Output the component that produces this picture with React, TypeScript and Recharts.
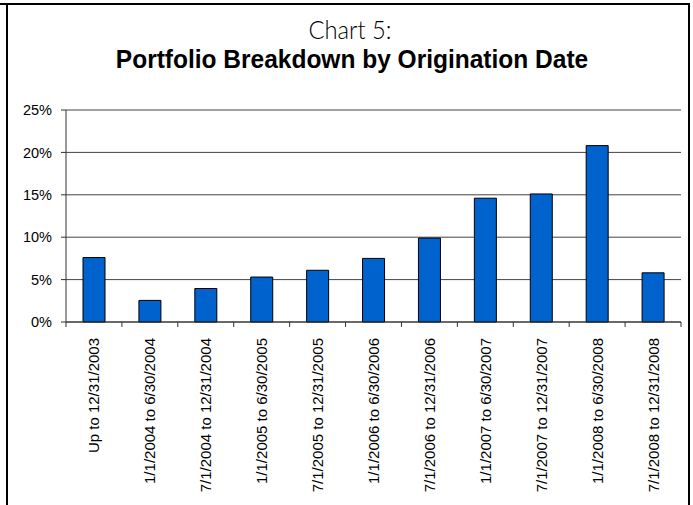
import React from "react";
import { BarChart, Bar, XAxis, YAxis, CartesianGrid } from "recharts";

const categories = [
  "Up to 12/31/2003",
  "1/1/2004 to 6/30/2004",
  "7/1/2004 to 12/31/2004",
  "1/1/2005 to 6/30/2005",
  "7/1/2005 to 12/31/2005",
  "1/1/2006 to 6/30/2006",
  "7/1/2006 to 12/31/2006",
  "1/1/2007 to 6/30/2007",
  "7/1/2007 to 12/31/2007",
  "1/1/2008 to 6/30/2008",
  "7/1/2008 to 12/31/2008",
];

// percent of portfolio
const shares = [7.6, 2.55, 3.95, 5.3, 6.1, 7.5, 9.9, 14.6, 15.1, 20.8, 5.8];

const yTicks = [0, 5, 10, 15, 20, 25];

const data = categories.map((name, i) => ({ name, share: shares[i] }));

const labelFont = "'Liberation Sans', Arial, sans-serif";

function CategoryTick(props: any) {
  const { x, y, payload, index } = props;
  const half = payload && payload.offset ? payload.offset : 0;
  const last = index === categories.length - 1;
  return (
    <g>
      <line x1={x - half} x2={x - half} y1={y} y2={y + 5} stroke="#333" />
      {last && <line x1={x + half} x2={x + half} y1={y} y2={y + 5} stroke="#333" />}
      <text
        x={x}
        y={y + 16}
        transform={`rotate(-90, ${x}, ${y + 16})`}
        textAnchor="end"
        dominantBaseline="central"
        fontFamily={labelFont}
        fontSize={15}
        fill="#000"
      >
        {payload.value}
      </text>
    </g>
  );
}

export default function App() {
  return (
    <div style={{ position: "absolute", left: 0, top: 0, width: 693, height: 505, background: "#fff" }}>
      {/* frame */}
      <div style={{ position: "absolute", left: 0, top: 3, width: 690, height: 2, background: "#000" }} />
      <div style={{ position: "absolute", left: 6, top: 3, width: 2, height: 502, background: "#000" }} />
      <div style={{ position: "absolute", left: 688, top: 3, width: 2, height: 502, background: "#000" }} />

      <div
        style={{
          position: "absolute",
          left: 0,
          width: 700,
          top: 14,
          textAlign: "center",
          fontFamily: "Lato, 'Open Sans', sans-serif",
          fontWeight: 300,
          fontSize: 25,
          lineHeight: "30px",
          color: "#000",
          transform: "scaleX(0.95)",
        }}
      >
        Chart 5:
      </div>
      <div
        style={{
          position: "absolute",
          left: 0,
          width: 704,
          top: 44,
          textAlign: "center",
          fontFamily: labelFont,
          fontWeight: 700,
          fontSize: 25,
          lineHeight: "30px",
          color: "#000",
          transform: "scaleX(0.98)",
        }}
      >
        Portfolio Breakdown by Origination Date
      </div>

      <div style={{ position: "absolute", left: 0, top: 0 }}>
        <BarChart
          width={693}
          height={505}
          data={data}
          margin={{ top: 110, right: 12, left: 6, bottom: 0 }}
          barSize={22}
        >
          <CartesianGrid vertical={false} stroke="#444" />
          <XAxis
            dataKey="name"
            height={183}
            interval={0}
            tickSize={0}
            tickMargin={0}
            tickLine={false}
            axisLine={{ stroke: "#333" }}
            tick={<CategoryTick />}
          />
          <YAxis
            width={60}
            domain={[0, 25]}
            ticks={yTicks}
            tickFormatter={(v: number) => `${v}%`}
            tickSize={5}
            tickMargin={9}
            tickLine={{ stroke: "#333" }}
            axisLine={{ stroke: "#333" }}
            tick={{ fontFamily: labelFont, fontSize: 14.5, fill: "#000" }}
          />
          <Bar dataKey="share" fill="#0062CC" stroke="#000" strokeWidth={1} isAnimationActive={false} />
        </BarChart>
      </div>
    </div>
  );
}
